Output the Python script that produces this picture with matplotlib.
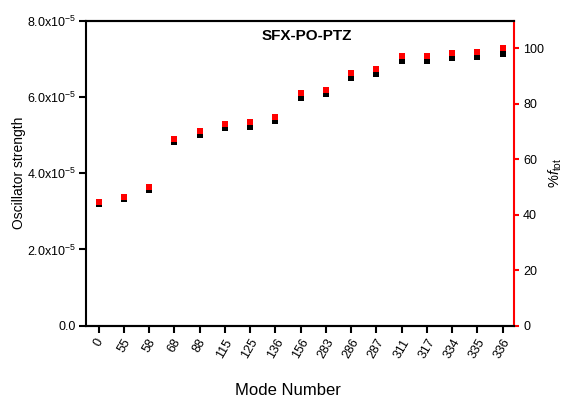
import matplotlib
matplotlib.use("Agg")
import matplotlib.pyplot as plt
import numpy as np

plt.rcParams['font.family'] = ['Liberation Sans', 'DejaVu Sans']
plt.rcParams['mathtext.fontset'] = 'custom'
plt.rcParams['mathtext.rm'] = 'Liberation Sans'
plt.rcParams['mathtext.it'] = 'Liberation Sans:italic'
plt.rcParams['mathtext.bf'] = 'Liberation Sans:bold'

# Vibrational modes and their cumulative oscillator strength contributions
modes = ["0", "55", "58", "68", "88", "115", "125", "136", "156", "283",
         "286", "287", "311", "317", "334", "335", "336"]
osc_strength = [3.20e-5, 3.32e-5, 3.56e-5, 4.82e-5, 5.01e-5, 5.18e-5, 5.22e-5,
                5.37e-5, 5.98e-5, 6.07e-5, 6.50e-5, 6.60e-5, 6.94e-5, 6.95e-5,
                7.02e-5, 7.05e-5, 7.13e-5]
pct_ftot = [44.7, 46.5, 49.9, 67.5, 70.3, 72.6, 73.3, 75.3, 83.9, 85.1,
            91.1, 92.5, 97.1, 97.2, 98.3, 98.7, 100.0]
left_ticks = [0.0, 2.0e-5, 4.0e-5, 6.0e-5, 8.0e-5]
left_ticklabels = ["0.0", r"2.0x10$^{-5}$", r"4.0x10$^{-5}$",
                   r"6.0x10$^{-5}$", r"8.0x10$^{-5}$"]
right_ticks = [0, 20, 40, 60, 80, 100]

fig = plt.figure(figsize=(5.69, 3.98), dpi=100)
ax = fig.add_axes([86/569, 1 - 325.7/398, (514 - 86)/569, (325.7 - 20.7)/398])
ax2 = ax.twinx()

x = np.arange(len(modes))
ax.plot(x, osc_strength, linestyle='none', marker='s', markersize=5,
        color='black', markeredgewidth=0)
ax2.plot(x, pct_ftot, linestyle='none', marker='s', markersize=5,
         color='#ff0000', markeredgewidth=0)

ax.set_xlim(-0.5, 16.45)
ax.set_ylim(0, 8.0e-5)
ax2.set_ylim(0, 110)

ax.set_xticks(x)
ax.set_xticklabels(modes, rotation=60, ha='center', fontsize=9)
ax.set_yticks(left_ticks)
ax.set_yticklabels(left_ticklabels, fontsize=9)
ax2.set_yticks(right_ticks)
ax2.set_yticklabels([str(t) for t in right_ticks], fontsize=9)

for a in (ax, ax2):
    for s in a.spines.values():
        s.set_linewidth(1.5)
ax2.spines['right'].set_color('#ff0000')
ax2.spines['left'].set_visible(False)
ax.spines['right'].set_visible(False)

ax.tick_params(axis='both', direction='out', width=1.5, length=5, pad=2)
ax.tick_params(axis='x', length=5, pad=3)
ax2.tick_params(axis='y', direction='out', width=1.5, length=3.5,
                color='#ff0000', labelcolor='black', pad=3)

ax.set_ylabel("Oscillator strength", fontsize=10)
ax.yaxis.set_label_coords((26 - 86) / 428, 0.5)
ax2.set_ylabel(r"%$\mathit{f}_{\mathrm{tot}}$", fontsize=10.5)
ax2.yaxis.set_label_coords((547 - 86) / 428, 0.5)
fig.text(288/569, 3/398, "Mode Number", ha='center', va='baseline', fontsize=12)
fig.text(306.7/569, 1 - 36/398, "SFX-PO-PTZ", ha='center', va='center',
         fontsize=11, fontweight='bold')

fig.savefig("out.png", dpi=100)
